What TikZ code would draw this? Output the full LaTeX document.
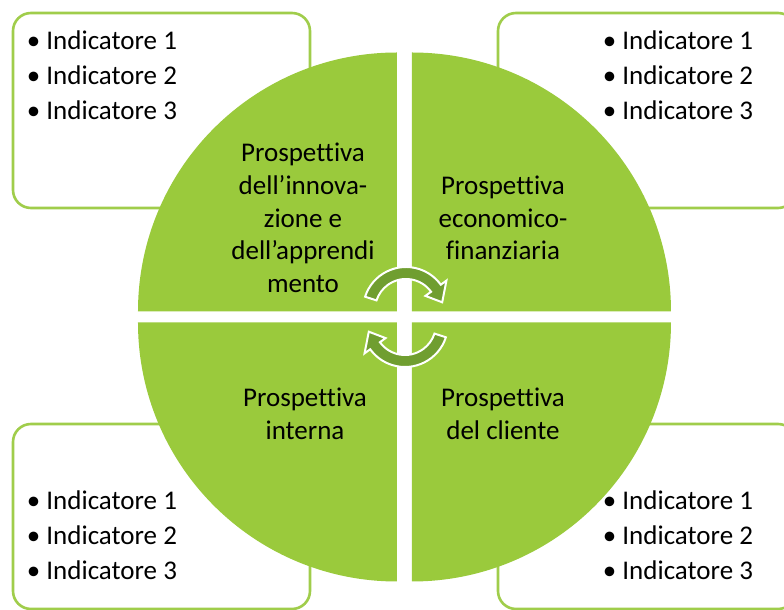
\documentclass[tikz,border=0pt]{standalone}
\usepackage{fontspec}
\setmainfont{Carlito}[Ligatures=NoCommon]
\usepackage{tikz}
\definecolor{quadgreen}{RGB}{154, 202, 60}
\definecolor{boxgreen}{RGB}{160, 205, 75}
\definecolor{arrowgreen}{RGB}{112, 158, 48}

\begin{document}
\begin{tikzpicture}[x=0.5pt, y=0.5pt,
    indbox/.style={draw=boxgreen, line width=1.3pt, rounded corners=9pt, fill=white, inner sep=0pt},
    quad/.style={fill=quadgreen},
    quadtext/.style={align=center, font=\fontsize{13.5}{16.3}\selectfont},
    indlist/.style={align=left, anchor=west, inner sep=0pt, font=\fontsize{13.5}{17.5}\selectfont},
    cycarrow/.pic={
        \filldraw[fill=arrowgreen, draw=white, line width=1pt]
            (162:43) arc[start angle=162, end angle=36, radius=43]
            -- (36:50) -- (12:37) -- (36:24) -- (36:31)
            arc[start angle=36, end angle=162, radius=31] -- cycle;
    }]
    \useasboundingbox (-404.5,-293) rectangle (379.5,317);

    % Indicator boxes (behind the disc)
    \node[indbox, minimum width=148.5pt, minimum height=97.5pt] (boxTL) at (-243,206.5) {};
    \node[indbox, minimum width=149pt, minimum height=97.5pt] (boxTR) at (242.5,206.5) {};
    \node[indbox, minimum width=148.5pt, minimum height=92.5pt] (boxBL) at (-243,-199.5) {};
    \node[indbox, minimum width=149pt, minimum height=92.5pt] (boxBR) at (242.5,-199.5) {};

    % Four quarters of the disc
    \fill[quad] (-7.5,5.5) -- ++(-259,0) arc[start angle=180, end angle=90, radius=259] -- cycle;
    \fill[quad] (7.5,5.5) -- ++(0,259) arc[start angle=90, end angle=0, radius=259] -- cycle;
    \fill[quad] (-7.5,-5.5) -- ++(0,-259) arc[start angle=270, end angle=180, radius=259] -- cycle;
    \fill[quad] (7.5,-5.5) -- ++(259,0) arc[start angle=0, end angle=-90, radius=259] -- cycle;

    % Cycle arrows in the middle
    \pic at (1.5,7) {cycarrow};
    \pic[rotate=180] at (0.5,-7) {cycarrow};

    % Perspectives
    \node[quadtext] (innov) at (-101.5,99) {Prospettiva\\dell’innova-\\zione e\\dell’apprendi\\mento};
    \node[quadtext] (econ) at (98.5,99) {Prospettiva\\economico-\\finanziaria};
    \node[quadtext] (inter) at (-99.5,-97) {Prospettiva\\interna};
    \node[quadtext] (clien) at (98.5,-97) {Prospettiva\\del cliente};

    % Indicator lists
    \node[indlist] (listTL) at (-378,242) {•\ Indicatore 1\\•\ Indicatore 2\\•\ Indicatore 3};
    \node[indlist] (listTR) at (198,242) {•\ Indicatore 1\\•\ Indicatore 2\\•\ Indicatore 3};
    \node[indlist] (listBL) at (-378,-218) {•\ Indicatore 1\\•\ Indicatore 2\\•\ Indicatore 3};
    \node[indlist] (listBR) at (198,-218) {•\ Indicatore 1\\•\ Indicatore 2\\•\ Indicatore 3};

\end{tikzpicture}
\end{document}
